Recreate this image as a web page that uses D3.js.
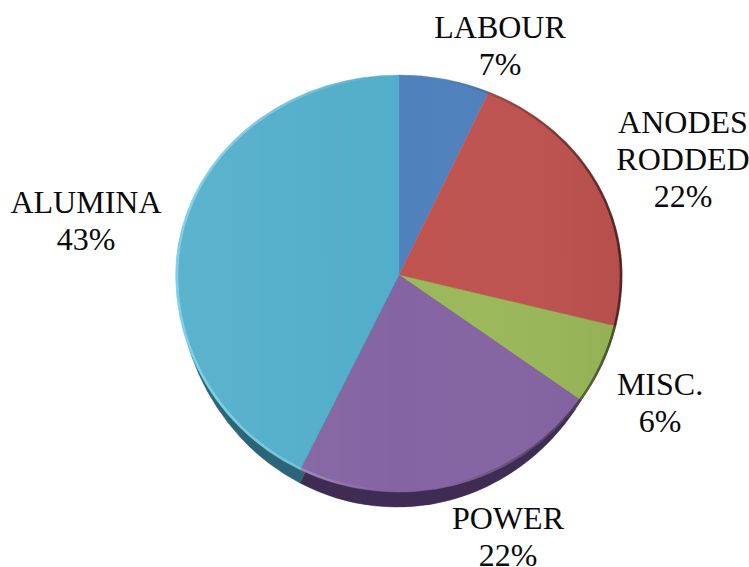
<!DOCTYPE html>
<html><head><meta charset="utf-8">
<script src="https://cdn.jsdelivr.net/npm/d3@7"></script>
<style>html,body{margin:0;background:#fff}svg{display:block}</style></head><body>
<svg id="c" width="749" height="567"></svg>
<script>
const categories=["LABOUR","ANODES RODDED","MISC.","POWER","ALUMINA"];
const values=[6.6,22.2,6,22.5,42.7];
const colors=["#4f81bd","#bf5350","#9bb95a","#8564a3","#52aeca"];
const edgeColors=["#35567e","#6e2f2d","#55692f","#3f2c52","#2a6677"];
const labelLines=[["LABOUR","7%"],["ANODES","RODDED","22%"],["MISC.","6%"],["POWER","22%"],["ALUMINA","43%"]];
const labelPos=[[500,38],[683,133],[660,395],[508,529],[86,213]];
const svg=d3.select("#c"),cx=399,cy=275,rx=223,ryUp=200,ryDown=217,sideRx=219,sideRy=232,sideShift=-2;
const defs=svg.append("defs");
defs.append("clipPath").attr("id","upper").append("rect").attr("x",-2).attr("y",-2).attr("width",4).attr("height",2);
defs.append("clipPath").attr("id","lower").append("rect").attr("x",-2).attr("y",0).attr("width",4).attr("height",2);
const rim=defs.append("linearGradient").attr("id","rim");
rim.append("stop").attr("offset","0").attr("stop-color","#8fe0f5").attr("stop-opacity",.65);
rim.append("stop").attr("offset",".45").attr("stop-color","#fff").attr("stop-opacity",0);
rim.append("stop").attr("offset",".6").attr("stop-color","#000").attr("stop-opacity",0);
rim.append("stop").attr("offset","1").attr("stop-color","#000").attr("stop-opacity",.55);
const sheenObj=defs.append("linearGradient").attr("id","sheenObj");
sheenObj.append("stop").attr("offset","0").attr("stop-color","#fff").attr("stop-opacity",.06);
sheenObj.append("stop").attr("offset",".5").attr("stop-color","#fff").attr("stop-opacity",0);
sheenObj.append("stop").attr("offset","1").attr("stop-color","#000").attr("stop-opacity",.05);
const pie=d3.pie().sort(null)(values);
const arc=d3.arc().innerRadius(0).outerRadius(1);
function half(dx,sx,sy,clip,fills,overlay){
 const g=svg.append("g").attr("transform",`translate(${cx+dx},${cy}) scale(${sx},${sy})`).attr("clip-path",`url(#${clip})`);
 g.selectAll("path").data(pie).join("path").attr("d",arc).attr("fill",(d,i)=>fills[i])
  .attr("stroke",(d,i)=>fills[i]).attr("stroke-width",.002);
 if(overlay){
  g.append("circle").attr("r",1).attr("fill","url(#sheenObj)");
  g.append("circle").attr("r",.996).attr("fill","none").attr("stroke","url(#rim)").attr("stroke-width",.012);
 }
}
half(sideShift,sideRx,sideRy,"lower",edgeColors,false);
half(0,rx,ryDown,"lower",colors,true);
half(0,rx,ryUp,"upper",colors,true);
const t=svg.append("g").attr("font-family","Liberation Serif").attr("font-size",32).attr("fill","#0a0a0a").attr("text-anchor","middle");
labelLines.forEach((ls,i)=>{ls.forEach((s,j)=>{
 t.append("text").attr("x",labelPos[i][0]).attr("y",labelPos[i][1]+j*37).text(s);});});
</script></body></html>
